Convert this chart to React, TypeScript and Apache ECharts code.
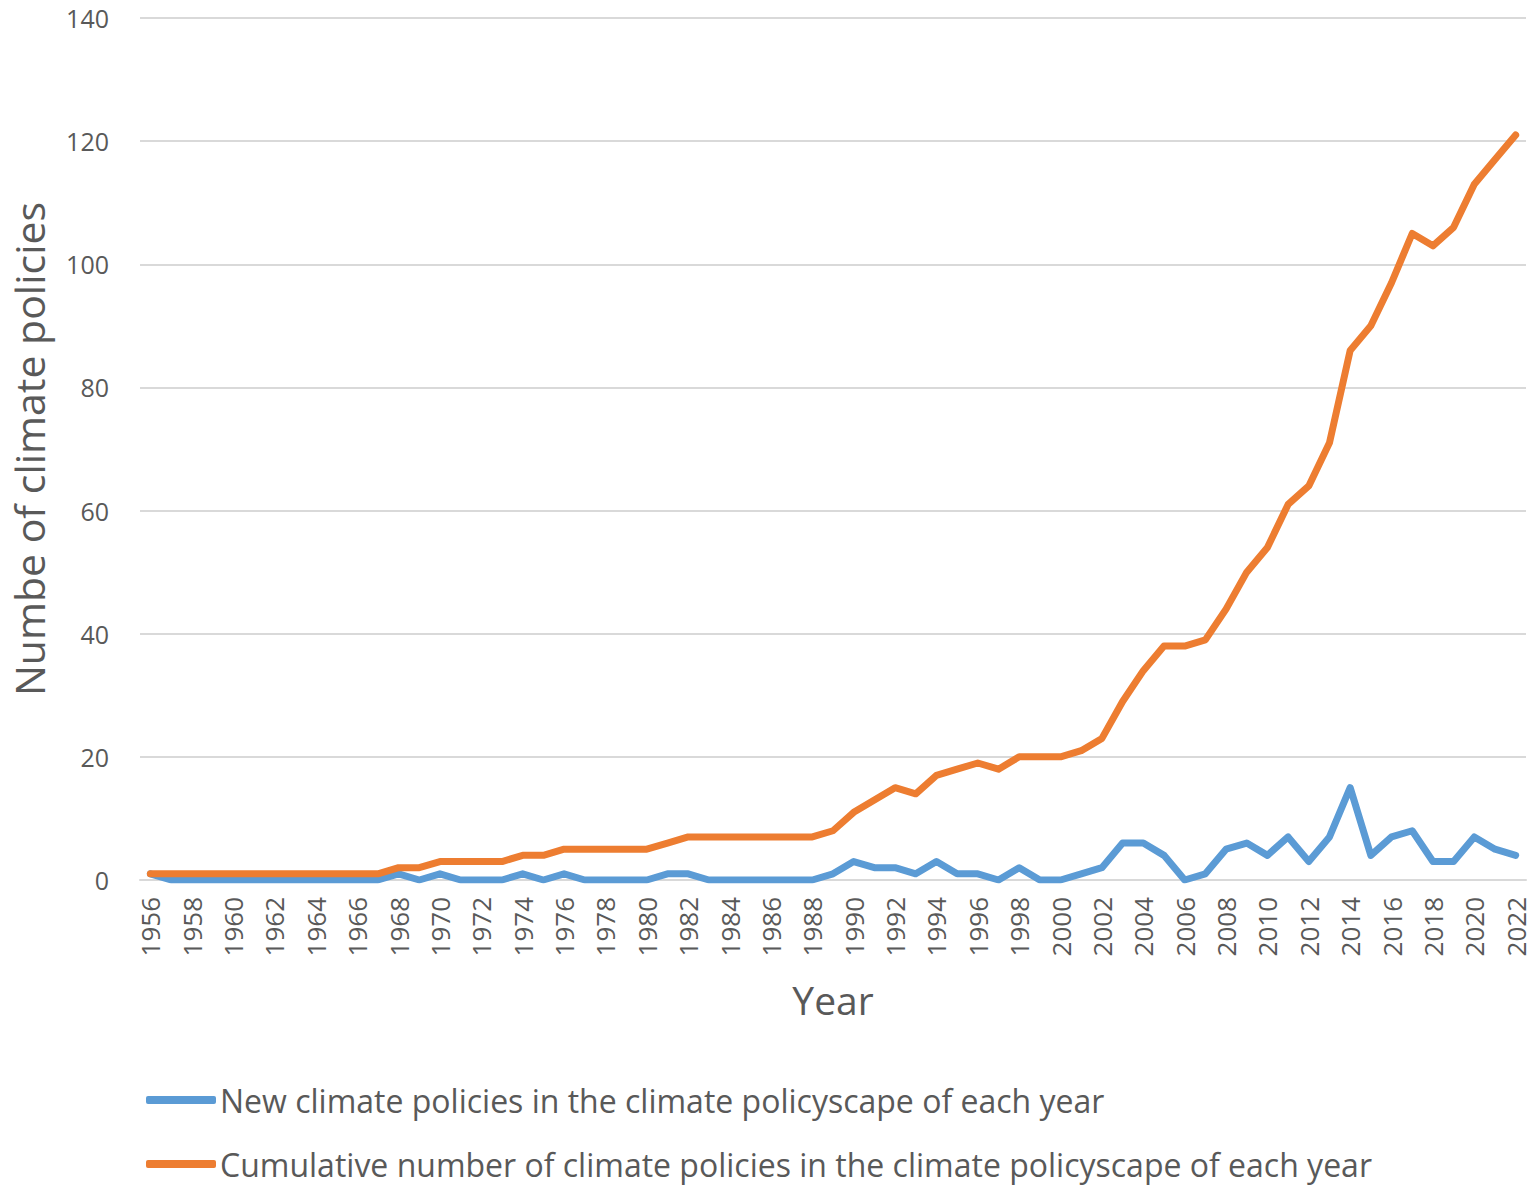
import React, { useEffect, useRef } from "react";
import * as echarts from "echarts";

const years: string[] = [];
for (let y = 1956; y <= 2022; y++) years.push(String(y));

const newPolicies = [
  1, 0, 0, 0, 0, 0, 0, 0, 0, 0, 0, 0, 1, 0, 1, 0, 0, 0, 1, 0,
  1, 0, 0, 0, 0, 1, 1, 0, 0, 0, 0, 0, 0, 1, 3, 2, 2, 1, 3, 1,
  1, 0, 2, 0, 0, 1, 2, 6, 6, 4, 0, 1, 5, 6, 4, 7, 3, 7, 15, 4,
  7, 8, 3, 3, 7, 5, 4,
];

const cumulative = [
  1, 1, 1, 1, 1, 1, 1, 1, 1, 1, 1, 1, 2, 2, 3, 3, 3, 3, 4, 4,
  5, 5, 5, 5, 5, 6, 7, 7, 7, 7, 7, 7, 7, 8, 11, 13, 15, 14, 17, 18,
  19, 18, 20, 20, 20, 21, 23, 29, 34, 38, 38, 39, 44, 50, 54, 61, 64, 71, 86, 90,
  97, 105, 103, 106, 113, 117, 121,
];

const seriesNames = [
  "New climate policies in the climate policyscape of each year",
  "Cumulative number of climate policies in the climate policyscape of each year",
];

const FONT = "'Open Sans'";
const TEXT = "#595959";

export default function App() {
  const ref = useRef<HTMLDivElement>(null);
  useEffect(() => {
    document.body.style.margin = "0";
    if (!ref.current) return;
    const chart = echarts.init(ref.current, undefined, { renderer: "svg" });
    chart.setOption({
      animation: false,
      backgroundColor: "#ffffff",
      textStyle: { fontFamily: FONT, color: TEXT },
      grid: { left: 136, right: 10, top: 18, bottom: 309, containLabel: false },
      legend: {
        orient: "vertical",
        left: 146,
        top: 1084,
        padding: 0,
        itemGap: 32,
        itemWidth: 70,
        itemHeight: 8,
        icon: "roundRect",
        textStyle: { fontFamily: FONT, fontSize: 32, color: TEXT, padding: [0, 0, 0, -1] },
        data: seriesNames,
      },
      xAxis: {
        type: "category",
        data: years,
        boundaryGap: true,
        name: "Year",
        nameLocation: "middle",
        nameGap: 100,
        nameTextStyle: { fontFamily: FONT, fontSize: 39, color: TEXT },
        axisLine: { show: true, lineStyle: { color: "#d9d9d9", width: 2 } },
        axisTick: { show: false },
        axisLabel: {
          rotate: 90,
          interval: 1,
          fontSize: 26,
          color: TEXT,
          fontFamily: FONT,
          margin: 17,
        },
      },
      yAxis: {
        type: "value",
        min: 0,
        max: 140,
        interval: 20,
        name: "Numbe of climate policies",
        nameLocation: "middle",
        nameGap: 91,
        nameTextStyle: { fontFamily: FONT, fontSize: 41, color: TEXT },
        axisLine: { show: false },
        axisTick: { show: false },
        axisLabel: { fontSize: 25, color: TEXT, fontFamily: FONT, margin: 31 },
        splitLine: { lineStyle: { color: "#d9d9d9", width: 2 } },
      },
      series: [
        {
          name: seriesNames[0],
          type: "line",
          data: newPolicies,
          symbol: "none",
          lineStyle: { color: "#5B9BD5", width: 7, cap: "round", join: "round" },
          itemStyle: { color: "#5B9BD5" },
        },
        {
          name: seriesNames[1],
          type: "line",
          data: cumulative,
          symbol: "none",
          lineStyle: { color: "#ED7D31", width: 7, cap: "round", join: "round" },
          itemStyle: { color: "#ED7D31" },
        },
      ],
    });
    return () => chart.dispose();
  }, []);
  return <div ref={ref} style={{ width: 1536, height: 1189 }} />;
}
